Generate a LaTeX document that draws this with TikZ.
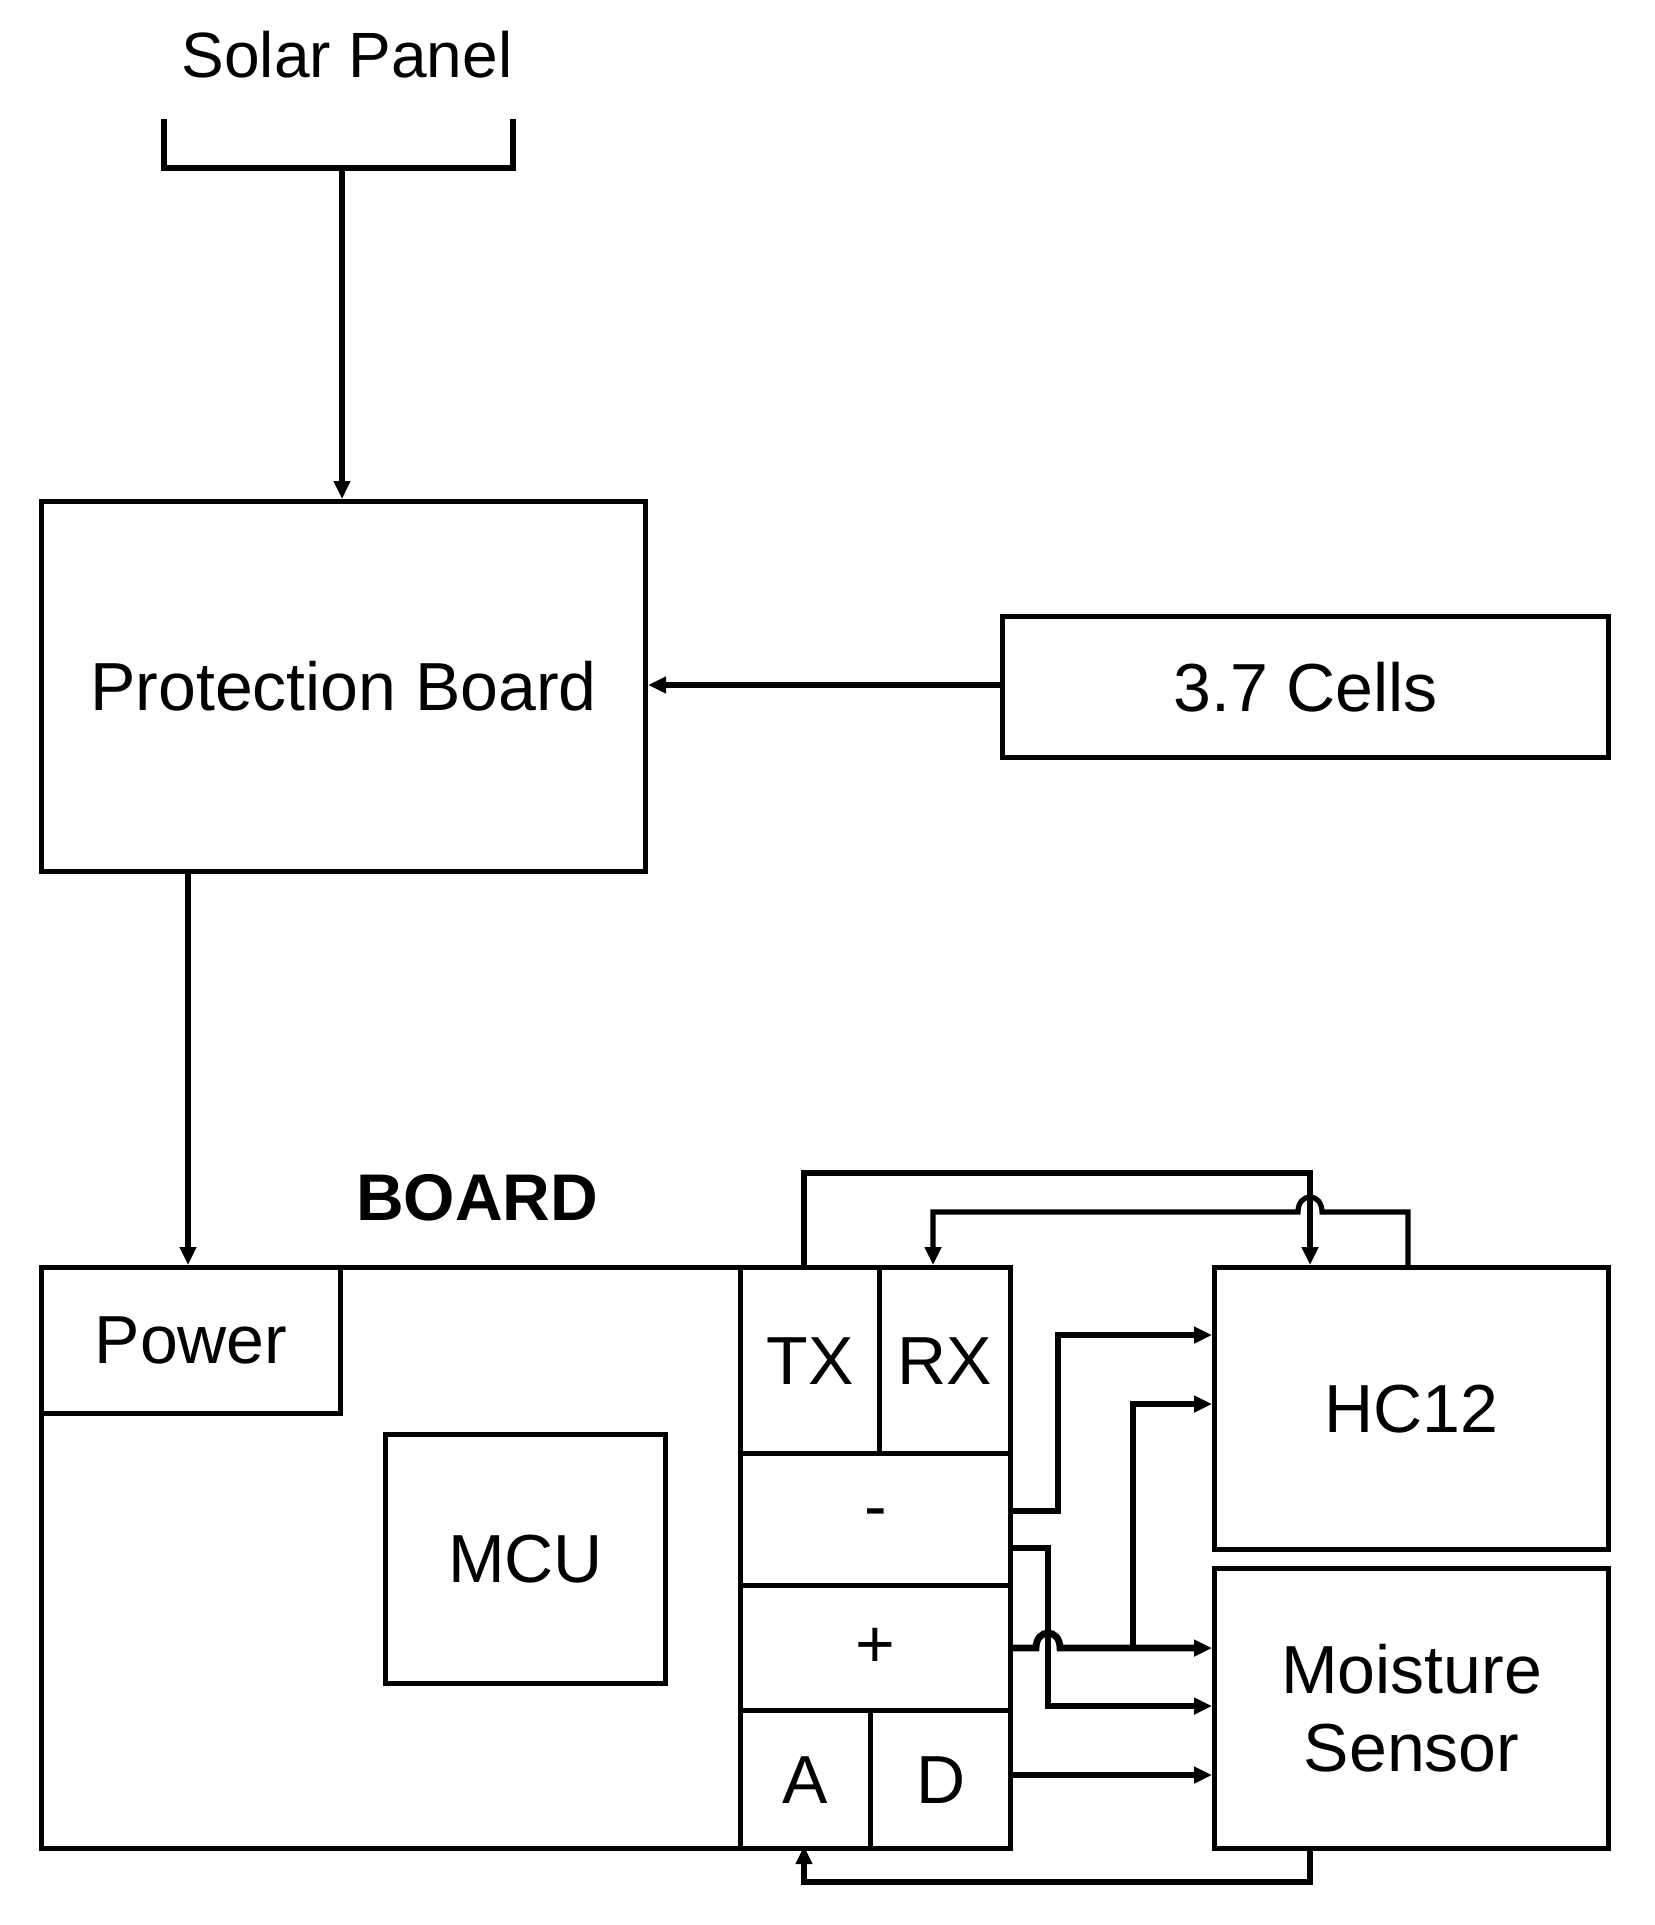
\documentclass[tikz,border=0pt]{standalone}
\usepackage{fontspec}
\setmainfont{Liberation Sans}
\usetikzlibrary{arrows.meta}
\begin{document}
\begin{tikzpicture}[x=0.5pt,y=-0.5pt,line width=2.6pt,
  box/.style={draw,line width=2.6pt,anchor=north west,inner sep=0pt,align=center},
  ar/.style={-{Triangle[length=9pt,width=8pt]}},
  lbl/.style={font=\fontsize{34}{39}\selectfont}]
\useasboundingbox (0,0) rectangle (1654,1925);
\node[font=\fontsize{32}{38}\selectfont] (sp) at (347,55) {Solar Panel};
\draw (164,119) -- (164,168) -- (513,168) -- (513,119);
\coordinate (spb) at (342,168);
\node[box,minimum width=302pt,minimum height=185pt,lbl] (pb) at (39,499) {Protection Board};
\node[box,minimum width=303pt,minimum height=70.5pt,lbl] (cells) at (1000,614) {3.7 Cells};
\draw[ar] (spb) -- (pb.north -| spb);
\draw[ar] (cells.west |- 0,685) -- (pb.east |- 0,685);
\node[font=\bfseries\fontsize{33}{38}\selectfont] (bl) at (477,1198) {BOARD};
\node[box,minimum width=484.5pt,minimum height=290.5pt] (board) at (39,1265) {};
\node[box,minimum width=149.5pt,minimum height=73pt,lbl] (pw) at (39,1265) {Power};
\node[box,minimum width=140pt,minimum height=124.5pt,lbl] (mcu) at (383,1432) {MCU};
\draw[ar] (188,869) -- (188,1265);
\node[box,minimum width=69.5pt,minimum height=93pt,lbl] (tx) at (738,1265) {TX};
\node[box,minimum width=65.5pt,minimum height=93pt,lbl] (rx) at (877,1265) {RX};
\node[box,minimum width=135pt,minimum height=66pt,lbl] (minus) at (738,1451) {-};
\node[box,minimum width=135pt,minimum height=62.5pt,lbl] (plus) at (738,1583) {+};
\node[box,minimum width=65pt,minimum height=69pt,lbl] (a) at (738,1708) {A};
\node[box,minimum width=70pt,minimum height=69pt,lbl] (d) at (868,1708) {D};
\node[box,minimum width=197pt,minimum height=141pt,lbl] (hc) at (1212,1265) {HC12};
\node[box,minimum width=197pt,minimum height=140pt,lbl] (ms) at (1212,1566) {Moisture\\Sensor};
% TX -> HC12
\draw[ar] (804,1265) -- (804,1173) -- (1310,1173) -- (1310,1265);
% HC12 -> RX with jump
\draw[ar] (1408,1265) -- (1408,1212) -- (1322,1212) .. controls (1322,1192) and (1298,1192) .. (1298,1212) -- (933,1212) -- (933,1265);
% minus wires
\draw[ar] (1008,1511) -- (1058,1511) -- (1058,1335) -- (1212,1335);
\draw[ar] (1008,1548) -- (1048,1548) -- (1048,1706) -- (1212,1706);
% plus wires
\draw[ar,line width=3.4pt] (1008,1648) -- (1036,1648) .. controls (1036,1628) and (1060,1628) .. (1060,1648) -- (1212,1648);
\draw[ar] (1133,1648) -- (1133,1404) -- (1212,1404);
% D
\draw[ar] (1008,1775) -- (1212,1775);
% Moisture -> A
\draw[ar] (1310,1846) -- (1310,1882) -- (804,1882) -- (804,1846);
\end{tikzpicture}
\end{document}
